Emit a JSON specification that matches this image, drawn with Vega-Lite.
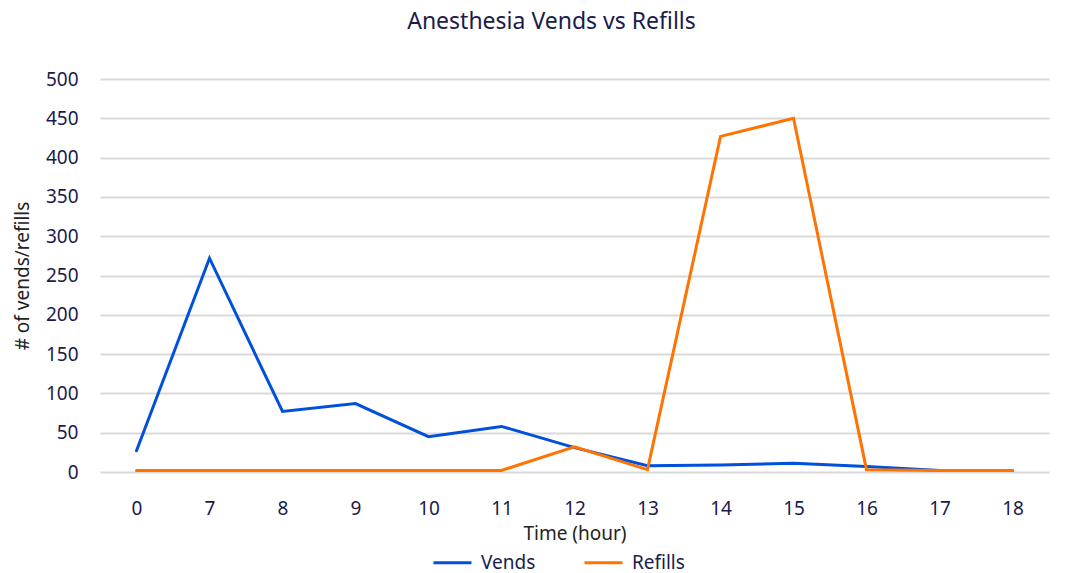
{
  "$schema": "https://vega.github.io/schema/vega-lite/v6.json",
  "autosize": "none",
  "width": 949,
  "height": 393,
  "padding": {"left": 100, "top": 79, "right": 16, "bottom": 101},
  "background": "white",
  "title": {
    "text": "Anesthesia Vends vs Refills",
    "fontSize": 23,
    "font": "Noto Sans",
    "fontWeight": "normal",
    "color": "#1b1b4b",
    "anchor": "middle",
    "dx": -23,
    "offset": 36
  },
  "config": {
    "font": "Noto Sans",
    "view": {"stroke": null}
  },
  "data": {
    "values": [
      {"hour": "0", "series": "Vends", "value": 27},
      {"hour": "7", "series": "Vends", "value": 272},
      {"hour": "8", "series": "Vends", "value": 77},
      {"hour": "9", "series": "Vends", "value": 87},
      {"hour": "10", "series": "Vends", "value": 45},
      {"hour": "11", "series": "Vends", "value": 58},
      {"hour": "12", "series": "Vends", "value": 31},
      {"hour": "13", "series": "Vends", "value": 8},
      {"hour": "14", "series": "Vends", "value": 9},
      {"hour": "15", "series": "Vends", "value": 11},
      {"hour": "16", "series": "Vends", "value": 7},
      {"hour": "17", "series": "Vends", "value": 2},
      {"hour": "18", "series": "Vends", "value": 2},
      {"hour": "0", "series": "Refills", "value": 2},
      {"hour": "7", "series": "Refills", "value": 2},
      {"hour": "8", "series": "Refills", "value": 2},
      {"hour": "9", "series": "Refills", "value": 2},
      {"hour": "10", "series": "Refills", "value": 2},
      {"hour": "11", "series": "Refills", "value": 2},
      {"hour": "12", "series": "Refills", "value": 32},
      {"hour": "13", "series": "Refills", "value": 3},
      {"hour": "14", "series": "Refills", "value": 427},
      {"hour": "15", "series": "Refills", "value": 450},
      {"hour": "16", "series": "Refills", "value": 3},
      {"hour": "17", "series": "Refills", "value": 2},
      {"hour": "18", "series": "Refills", "value": 2}
    ]
  },
  "mark": {"type": "line", "strokeWidth": 3, "strokeCap": "round", "strokeJoin": "miter"},
  "encoding": {
    "x": {
      "field": "hour",
      "type": "ordinal",
      "sort": ["0","7","8","9","10","11","12","13","14","15","16","17","18"],
      "scale": {"type": "point", "padding": 0.5},
      "axis": {
        "title": "Time (hour)",
        "labelAngle": 0,
        "labelFontSize": 19,
        "labelColor": "#1b1b4b",
        "labelPadding": 27,
        "titleFontSize": 19,
        "titleFontWeight": "normal",
        "titleColor": "#222222",
        "titlePadding": 6,
        "domain": false,
        "ticks": false,
        "grid": false
      }
    },
    "y": {
      "field": "value",
      "type": "quantitative",
      "scale": {"domain": [0, 500], "nice": false},
      "axis": {
        "title": "# of vends/refills",
        "values": [0,50,100,150,200,250,300,350,400,450,500],
        "labelFontSize": 19,
        "labelColor": "#1b1b4b",
        "labelPadding": 22,
        "titleFontSize": 19,
        "titleFontWeight": "normal",
        "titleColor": "#222222",
        "titlePadding": 13,
        "domain": false,
        "ticks": false,
        "grid": true,
        "gridColor": "#d9d9d9",
        "gridWidth": 2
      }
    },
    "color": {
      "field": "series",
      "type": "nominal",
      "sort": ["Vends", "Refills"],
      "scale": {"domain": ["Vends", "Refills"], "range": ["#0050dc", "#ff7300"]},
      "legend": {
        "title": null,
        "orient": "none",
        "legendX": 332,
        "legendY": 463,
        "direction": "horizontal",
        "symbolType": "stroke",
        "symbolStrokeWidth": 3,
        "symbolSize": 1444,
        "labelFontSize": 19,
        "labelColor": "#1b1b4b",
        "labelOffset": 8,
        "columnPadding": 42
      }
    }
  }
}
